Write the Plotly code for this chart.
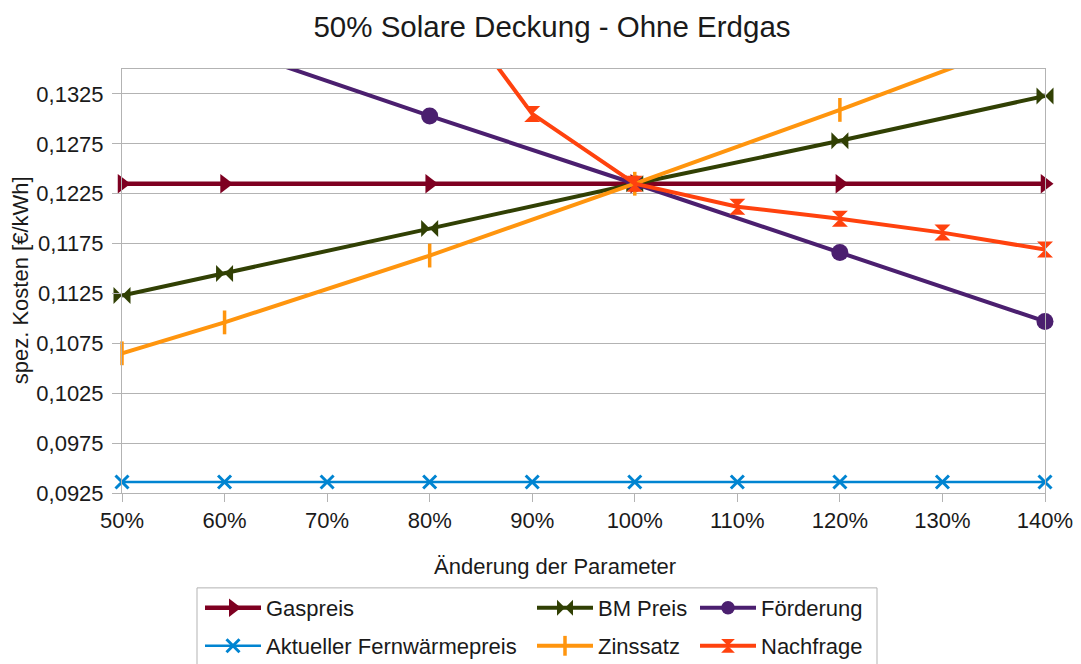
import plotly.graph_objects as go

# Parameter change in percent (x axis)
x_all = [50, 60, 70, 80, 90, 100, 110, 120, 130, 140]
x_labels = ["50%", "60%", "70%", "80%", "90%", "100%", "110%", "120%", "130%", "140%"]
x_main = [50, 60, 80, 100, 120, 140]

# Specific costs in EUR/kWh for each sensitivity series
gaspreis = [0.1235, 0.1235, 0.1235, 0.1235, 0.1235, 0.1235]
bm_preis = [0.1123, 0.1145, 0.1190, 0.1235, 0.1278, 0.1323]
foerderung_x = [60, 80, 100, 120, 140]
foerderung = [0.1373, 0.1303, 0.1235, 0.1166, 0.1097]
fernwaerme = [0.0936] * 10
zinssatz = [0.1065, 0.1096, 0.1163, 0.1235, 0.1309, 0.1386]
nachfrage_x = [80, 90, 100, 110, 120, 130, 140]
nachfrage = [0.1444, 0.1305, 0.1235, 0.1212, 0.1200, 0.1186, 0.1169]

Y_MIN, Y_MAX = 0.0925, 0.135
W, H = 1081, 664
PLOT_L, PLOT_R, PLOT_T, PLOT_B = 122, 1045, 68.5, 493

FONT = "Liberation Sans"
TXT = "#1a1a1a"
GRID = "#b3b3b3"
FS = 22


def sizes(ys, s):
    # markers only for points that lie inside the value axis range
    return [s if Y_MIN <= v <= Y_MAX else 0 for v in ys]


series = [
    dict(name="Gaspreis", x=x_main, y=gaspreis, color="#7e0021", symbol="triangle-right",
         size=17, lw=4.5, legend="legend", mline=0),
    dict(name="BM Preis", x=x_main, y=bm_preis, color="#314004", symbol="bowtie",
         size=17, lw=4, legend="legend2", mline=0),
    dict(name="Förderung", x=foerderung_x, y=foerderung, color="#4b1f6f", symbol="circle",
         size=17, lw=4, legend="legend3", mline=0),
    dict(name="Aktueller Fernwärmepreis", x=x_all, y=fernwaerme, color="#0084d1", symbol="x-thin",
         size=13, lw=2.5, legend="legend4", mline=3),
    dict(name="Zinssatz", x=x_main, y=zinssatz, color="#ff950e", symbol="line-ns",
         size=17, lw=4, legend="legend5", mline=3.5),
    dict(name="Nachfrage", x=nachfrage_x, y=nachfrage, color="#ff420e", symbol="hourglass",
         size=16, lw=4, legend="legend6", mline=0),
]

fig = go.Figure()
for s in series:
    fig.add_trace(go.Scatter(
        x=s["x"], y=s["y"], name=s["name"], mode="lines+markers",
        line=dict(color=s["color"], width=s["lw"]),
        marker=dict(symbol=s["symbol"], size=sizes(s["y"], s["size"]), color=s["color"],
                    opacity=1, line=dict(color=s["color"], width=s["mline"])),
        cliponaxis=False, legend=s["legend"],
    ))


def px_x(px):
    return (px - PLOT_L) / (PLOT_R - PLOT_L)


def px_y(py):
    return (PLOT_B - py) / (PLOT_B - PLOT_T)


legend_pos = {
    "legend": (200, 608), "legend2": (532, 608), "legend3": (695, 608),
    "legend4": (200, 646), "legend5": (532, 646), "legend6": (695, 646),
}
legend_layout = {}
for key, (lx, ly) in legend_pos.items():
    legend_layout[key] = dict(
        x=lx / W, y=1 - ly / H, xref="container", yref="container",
        xanchor="left", yanchor="middle", bgcolor="rgba(0,0,0,0)", borderwidth=0,
        font=dict(family=FONT, size=FS, color=TXT), itemwidth=56,
    )

fig.update_layout(
    width=W, height=H,
    margin=dict(l=PLOT_L, r=W - PLOT_R, t=PLOT_T, b=H - PLOT_B, autoexpand=False),
    paper_bgcolor="white", plot_bgcolor="white",
    font=dict(family=FONT, size=FS, color=TXT),
    separators=",.",
    title=dict(text="50% Solare Deckung - Ohne Erdgas", x=552 / W, xref="container", xanchor="center",
               y=1 - 27 / H, yref="container", yanchor="middle",
               font=dict(family=FONT, size=29.5, color=TXT)),
    showlegend=True,
    xaxis=dict(range=[50, 140], tickmode="array", tickvals=x_all, ticktext=x_labels,
               showgrid=False, zeroline=False, showline=True, linecolor=GRID, linewidth=1,
               mirror=True, ticks="outside", ticklen=8, tickcolor=GRID,
               tickfont=dict(family=FONT, size=FS, color=TXT)),
    yaxis=dict(range=[Y_MIN, Y_MAX], tick0=Y_MIN, dtick=0.005, tickformat=".4f",
               showgrid=True, gridcolor=GRID, gridwidth=1, zeroline=False,
               showline=True, linecolor=GRID, linewidth=1, mirror=True,
               ticks="outside", ticklen=9, tickcolor=GRID, ticklabelstandoff=4,
               tickfont=dict(family=FONT, size=FS, color=TXT)),
    annotations=[
        dict(text="Änderung der Parameter", x=px_x(555), y=px_y(567), xref="paper", yref="paper",
             xanchor="center", yanchor="middle", showarrow=False,
             font=dict(family=FONT, size=FS, color=TXT)),
        dict(text="spez. Kosten [€/kWh]", x=px_x(20), y=px_y(280), xref="paper", yref="paper",
             xanchor="center", yanchor="middle", showarrow=False, textangle=-90,
             font=dict(family=FONT, size=FS, color=TXT)),
    ],
    shapes=[
        dict(type="rect", xref="paper", yref="paper", x0=px_x(197), x1=px_x(877),
             y0=px_y(680), y1=px_y(588), line=dict(color=GRID, width=1), fillcolor="rgba(0,0,0,0)",
             layer="below"),
    ],
    **legend_layout,
)

fig.write_html("out.html")
